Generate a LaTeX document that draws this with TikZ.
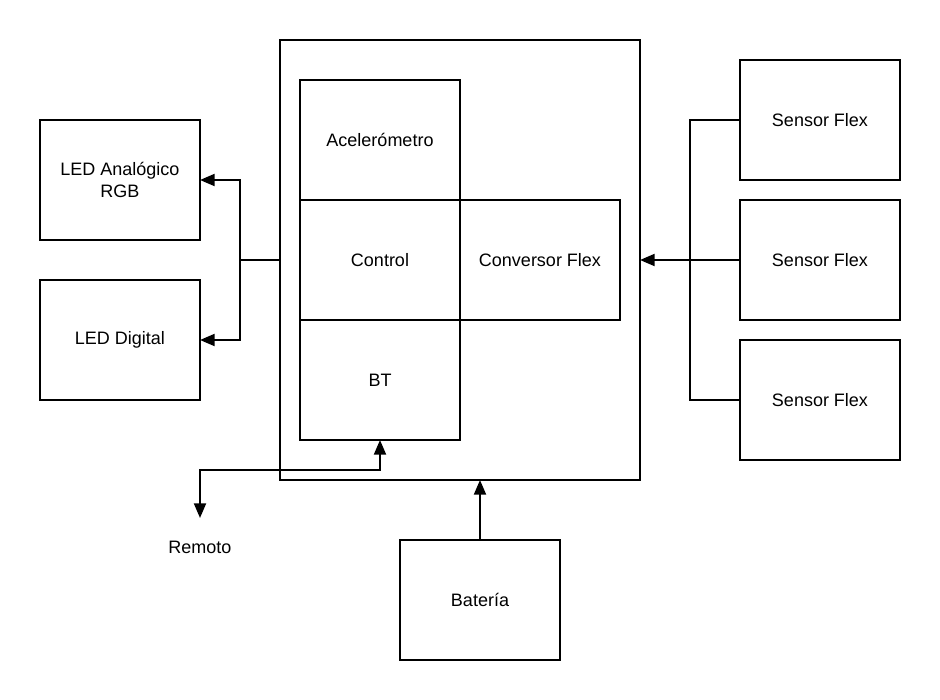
\documentclass[tikz,border=0pt]{standalone}
\usepackage{fontspec}
\setmainfont{Liberation Sans}
\usetikzlibrary{arrows.meta,positioning}

\begin{document}
\begin{tikzpicture}[x=0.75pt,y=-0.75pt,
    box/.style={draw,line width=1.5pt,outer sep=0pt,minimum width=120pt,minimum height=90pt,align=center,font=\fontsize{13.5}{16}\selectfont},
    wire/.style={line width=1.5pt},
    arr/.style={wire,-{Triangle[length=11pt,width=9pt]}},
    arrboth/.style={wire,{Triangle[length=11pt,width=9pt]}-{Triangle[length=11pt,width=9pt]}}]
  \useasboundingbox (0,0) rectangle (940,700);
  % central unit
  \node[box,minimum width=270pt,minimum height=330pt] (unit) at (460,260) {};
  \node[box] (acel) at (380,140) {Acelerómetro};
  \node[box] (ctrl) at (380,260) {Control};
  \node[box] (conv) at (540,260) {Conversor Flex};
  \node[box] (bt)   at (380,380) {BT};
  % outputs
  \node[box] (ledrgb) at (120,180) {LED Analógico\\RGB};
  \node[box] (leddig) at (120,340) {LED Digital};
  % sensors
  \node[box] (flexa) at (820,120) {Sensor Flex};
  \node[box] (flexb) at (820,260) {Sensor Flex};
  \node[box] (flexc) at (820,400) {Sensor Flex};
  \node[box] (bat) at (480,600) {Batería};
  \coordinate (rmt) at (200,518);
  \node[below=14pt of rmt,font=\fontsize{13.5}{16}\selectfont] (remoto) {Remoto};

  \coordinate (jleft) at (240,260);
  \coordinate (jright) at (690,260);
  \coordinate (jbt) at (380,470);
  \draw[wire] (unit.west) -- (jleft);
  \draw[arr] (jleft) |- (ledrgb.east);
  \draw[arr] (jleft) |- (leddig.east);
  \draw[wire] (flexa.west) -| (jright) |- (flexc.west);
  \draw[arr] (flexb.west) -- (unit.east);
  \draw[arr] (bat.north) -- (bat.north |- unit.south);
  \draw[arrboth] (rmt) |- (jbt) -- (bt.south);
\end{tikzpicture}
\end{document}
